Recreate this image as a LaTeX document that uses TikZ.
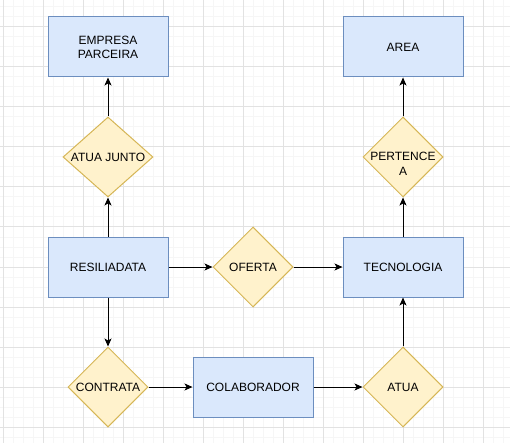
\documentclass[tikz,border=0pt]{standalone}
\usepackage{fontspec}
\setmainfont{Liberation Sans}
\usetikzlibrary{shapes.geometric,arrows.meta}
\definecolor{boxfill}{HTML}{DAE8FC}
\definecolor{boxline}{HTML}{6C8EBF}
\definecolor{dfill}{HTML}{FFF2CC}
\definecolor{dline}{HTML}{D6B656}
\definecolor{gridminor}{HTML}{F6F6F6}
\definecolor{gridmajor}{HTML}{E2E2E2}
\tikzset{
  entity/.style={rectangle, draw=boxline, fill=boxfill, line width=1pt,
    minimum width=120pt, minimum height=60pt, inner sep=0pt, align=center,
    font=\fontsize{12}{14}\selectfont},
  rel/.style={diamond, draw=dline, fill=dfill, line width=1pt, aspect=1,
    minimum width=80pt, minimum height=80pt, inner sep=0pt},
  reltext/.style={align=center, font=\fontsize{12}{15}\selectfont, inner sep=0pt},
  conn/.style={line width=1pt, -{Stealth[length=8pt,width=7pt,inset=2pt]}}
}
\begin{document}
\begin{tikzpicture}[x=1pt,y=-1pt]
\useasboundingbox (0,0) rectangle (510,443);
\fill[white] (0,0) rectangle (510,443);
% grid
\foreach \x in {3,13,...,510} \draw[gridminor, line width=1pt] (\x,0) -- (\x,443);
\foreach \y in {7,17,...,443} \draw[gridminor, line width=1pt] (0,\y) -- (510,\y);
\foreach \x in {3,43,...,510} \draw[gridmajor, line width=1pt] (\x,0) -- (\x,443);
\foreach \y in {27,67,...,443} \draw[gridmajor, line width=1pt] (0,\y) -- (510,\y);
% entities
\node[entity] (emp) at (108,47) {EMPRESA\\PARCEIRA};
\node[entity] (area) at (403,47) {AREA};
\node[entity] (res) at (108,267) {RESILIADATA};
\node[entity] (tec) at (403,267) {TECNOLOGIA};
\node[entity] (col) at (253,387) {COLABORADOR};
% relationships
\node[rel, minimum width=90pt] (atuaj) at (108,157) {};
\node[reltext] (latuaj) at (atuaj.center) {ATUA JUNTO};
\node[rel] (pert) at (403,157) {};
\node[reltext, yshift=-7pt] (lpert) at (pert.center) {PERTENCE\\A};
\node[rel] (ofe) at (253,267) {};
\node[reltext] (lofe) at (ofe.center) {OFERTA};
\node[rel] (con) at (108,387) {};
\node[reltext] (lcon) at (con.center) {CONTRATA};
\node[rel] (atua) at (403,387) {};
\node[reltext] (latua) at (atua.center) {ATUA};
% connectors
\draw[conn] (res) -- (atuaj);
\draw[conn] (atuaj) -- (emp);
\draw[conn] (res) -- (ofe);
\draw[conn] (ofe) -- (tec);
\draw[conn] (res) -- (con);
\draw[conn] (con) -- (col);
\draw[conn] (col) -- (atua);
\draw[conn] (atua) -- (tec);
\draw[conn] (tec) -- (pert);
\draw[conn] (pert) -- (area);
\end{tikzpicture}
\end{document}
